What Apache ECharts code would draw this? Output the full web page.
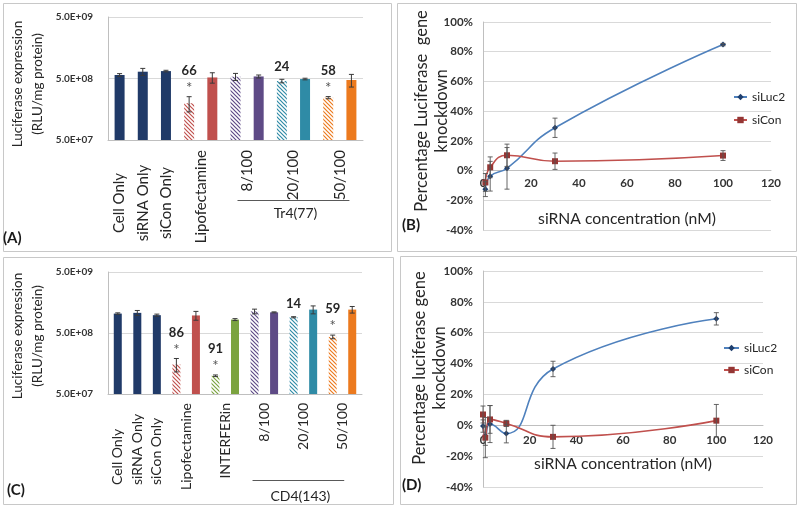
<!DOCTYPE html>
<html><head><meta charset="utf-8">
<script src="https://cdn.jsdelivr.net/npm/echarts@6/dist/echarts.min.js"></script>
<style>html,body{margin:0;padding:0;background:#fff;}#c{width:800px;height:510px;}</style>
</head><body><div id="c"></div>
<script>
// ================= DATA =================
// Panel A – Tr4(77)
const barCategoriesA = ['Cell Only','siRNA Only','siCon Only','Lipofectamine siLuc2','Lipofectamine siCon',
  'Tr4(77) 8/100 siLuc2','Tr4(77) 8/100 siCon','Tr4(77) 20/100 siLuc2','Tr4(77) 20/100 siCon','Tr4(77) 50/100 siLuc2','Tr4(77) 50/100 siCon'];
const expressionA = [5.7e8, 6.45e8, 6.6e8, 1.98e8, 5.2e8, 5.35e8, 5.4e8, 4.55e8, 4.9e8, 2.44e8, 4.73e8];
const errorA      = [0.3e8, 0.85e8, 0.2e8, 0.55e8, 1.0e8, 0.7e8, 0.3e8, 0.3e8, 0.15e8, 0.1e8, 1.1e8];
const knockdownA  = [null, null, null, 66, null, null, null, 24, null, 58, null];
const significantA= [false,false,false,true,false,false,false,false,false,true,false];
const tickLabelsA = [['Cell Only',[0]],['siRNA Only',[1]],['siCon Only',[2]],['Lipofectamine',[3,4]],['8/100',[5,6]],['20/100',[7,8]],['50/100',[9,10]]];
const groupA = ['Tr4(77)', [5,10]];
const barStyleA = ['navy','navy','navy','redH','red','purpleH','purple','tealH','teal','orangeH','orange'];

// Panel C – CD4(143)
const barCategoriesC = ['Cell Only','siRNA Only','siCon Only','Lipofectamine siLuc2','Lipofectamine siCon',
  'INTERFERin siLuc2','INTERFERin siCon','CD4(143) 8/100 siLuc2','CD4(143) 8/100 siCon','CD4(143) 20/100 siLuc2','CD4(143) 20/100 siCon','CD4(143) 50/100 siLuc2','CD4(143) 50/100 siCon'];
const expressionC = [1.04e9, 1.07e9, 0.98e9, 1.53e8, 9.7e8, 9.95e7, 8.3e8, 1.13e9, 1.09e9, 9.06e8, 1.21e9, 4.32e8, 1.21e9];
const errorC      = [0.3e8, 1.0e8, 0.4e8, 0.38e8, 1.6e8, 0.3e7, 0.3e8, 1.0e8, 0.2e8, 0.2e8, 1.8e8, 0.3e8, 1.5e8];
const knockdownC  = [null, null, null, 86, null, 91, null, null, null, 14, null, 59, null];
const significantC= [false,false,false,true,false,true,false,false,false,false,false,true,false];
const tickLabelsC = [['Cell Only',[0]],['siRNA Only',[1]],['siCon Only',[2]],['Lipofectamine',[3,4]],['INTERFERin',[5,6]],['8/100',[7,8]],['20/100',[9,10]],['50/100',[11,12]]];
const groupC = ['CD4(143)', [7,12]];
const barStyleC = ['navy','navy','navy','redH','red','greenH','green','purpleH','purple','tealH','teal','orangeH','orange'];

// Panel B – knockdown vs concentration
const concB = [1, 3, 10, 30, 100];
const siLuc2B = [-12.5, -3.8, 1.5, 28.8, 84.8];
const siLuc2ErrB = [5, 10, 14, 6.5, 0.8];
const siConB = [-8, 2.2, 10.3, 6.3, 10.1];
const siConErrB = [6, 7, 7.5, 5.5, 3.3];

// Panel D
const concD = [0, 1, 3, 10, 30, 100];
const siLuc2D = [-0.5, -7, 0.8, -5.4, 36.5, 69];
const siLuc2ErrD = [4, 6, 12, 6, 5, 4];
const siConD = [7, -8, 3.8, 1.2, -7.5, 3];
const siConErrD = [5.5, 13, 9, 2, 7.5, 10.5];

const pctTicks = {min: -40, max: 100, step: 20};
const concTicks = {min: 0, max: 120, step: 20};
const logBase = 5e7; // lowest tick 5.0E+07, decades above

// ================= STYLE =================
const FONT = 'Lato, "Open Sans", sans-serif';
const PAL = {navy:'#203A68', red:'#C0504D', purple:'#5E4A86', teal:'#2F8BA6', orange:'#EC7A1E', green:'#7BA33F'};
function hatch(color){
  const s = 4, c = document.createElement('canvas'); c.width = s; c.height = s;
  const g = c.getContext('2d');
  g.fillStyle = '#fff'; g.fillRect(0,0,s,s);
  g.strokeStyle = color; g.lineWidth = 1.2;
  g.beginPath();
  g.moveTo(-1,-1); g.lineTo(s+1,s+1);
  g.moveTo(-1,s-1); g.lineTo(1,s+1);
  g.moveTo(s-1,-1); g.lineTo(s+1,1);
  g.stroke();
  return {image: c, repeat: 'repeat'};
}
function barColor(key){
  const h = key.endsWith('H');
  const col = PAL[h ? key.slice(0,-1) : key];
  return h ? hatch(col) : col;
}
const toLog = v => Math.log10(v / logBase);
function sci(v){
  const e = Math.floor(Math.log10(v) + 1e-9);
  const m = v / Math.pow(10, e);
  return m.toFixed(1) + 'E+' + String(e).padStart(2,'0');
}
function slotLabels(defs, nBars, single){
  const arr = new Array(2*nBars+1).fill('');
  defs.forEach(([t, bars]) => {
    if ((bars.length === 1) !== single) return;
    const slot = bars.length === 1 ? 2*bars[0]+1 : 2*bars[0]+2;
    arr[slot] = t;
  });
  return arr;
}
const GRID_LINE = '#D9D9D9', AXIS_LINE = '#BFBFBF', TXT = '#262626';

function barAxis(grid, cats){
  return {type:'category', gridIndex:grid, data:cats, position:'bottom', boundaryGap:true,
    axisLine:{show:true, lineStyle:{color:AXIS_LINE}}, axisTick:{show:false}, axisLabel:{show:false}, splitLine:{show:false}};
}
function labelAxis(grid, labels, opts){
  return {type:'category', gridIndex:grid, position:'bottom', offset:0, boundaryGap:false,
    data: labels.map((_, k) => 's' + k),
    axisLine:{show:false}, axisTick:{show:false}, splitLine:{show:false},
    axisLabel:Object.assign({show:true, interval:0, rotate:90, verticalAlign:'middle',
      fontFamily:FONT, fontSize:14, color:TXT, formatter:(v, i) => labels[i]}, opts)};
}
function logYAxis(grid, nameShift){
  return {type:'value', gridIndex:grid, min:0, max:2, interval:1,
    axisLine:{show:true, lineStyle:{color:AXIS_LINE}}, axisTick:{show:false},
    splitLine:{show:true, lineStyle:{color:GRID_LINE}},
    axisLabel:{margin:15, fontFamily:FONT, fontSize:10, fontWeight:'bold', color:'#333',
      formatter: n => sci(logBase * Math.pow(10, n))},
    name:'Luciferase expression\n(RLU/mg protein)', nameLocation:'middle', nameGap:60, nameMoveOverlap:false,
    nameTextStyle:{fontFamily:FONT, fontSize:13.5, color:TXT, lineHeight:20, padding:nameShift}};
}
function concAxis(grid, nameGap, margin){
  return {type:'value', gridIndex:grid, min:concTicks.min, max:concTicks.max, interval:concTicks.step,
    axisLine:{show:true, onZero:false, lineStyle:{color:AXIS_LINE}}, axisTick:{show:false}, splitLine:{show:false},
    axisLabel:{margin:margin, fontFamily:FONT, fontSize:11.5, fontWeight:'bold', color:'#333'},
    name:'siRNA concentration (nM)', nameLocation:'middle', nameGap:nameGap, nameMoveOverlap:false,
    nameTextStyle:{fontFamily:FONT, fontSize:15.7, color:TXT}};
}
function pctAxis(grid, name, nameGap, shift){
  return {type:'value', gridIndex:grid, min:pctTicks.min, max:pctTicks.max, interval:pctTicks.step,
    axisLine:{show:true, onZero:false, lineStyle:{color:AXIS_LINE}}, axisTick:{show:false},
    splitLine:{show:true, lineStyle:{color:GRID_LINE}},
    axisLabel:{margin:10, fontFamily:FONT, fontSize:11.5, fontWeight:'bold', color:'#333', formatter:'{value}%'},
    name:name, nameLocation:'middle', nameGap:nameGap, nameMoveOverlap:false,
    nameTextStyle:{fontFamily:FONT, fontSize:16.5, color:TXT, lineHeight:20, padding:shift}};
}
function barSeries(xi, yi, values, styles, width){
  return {type:'bar', xAxisIndex:xi, yAxisIndex:yi, barWidth:width, animation:false,
    data: values.map((v, i) => ({value: toLog(v), itemStyle:{color: barColor(styles[i])}}))};
}
function barErrSeries(xi, yi, values, errs, knock, sig){
  return {type:'custom', xAxisIndex:xi, yAxisIndex:yi, z:5, animation:false, silent:true,
    data: values.map((v, i) => [i, toLog(v - errs[i]), toLog(v + errs[i])]),
    encode:{x:0, y:[1,2]},
    renderItem(params, api){
      const i = api.value(0);
      const hi = api.coord([i, api.value(2)]), lo = api.coord([i, api.value(1)]);
      const st = {stroke:'#3A3A3A', lineWidth:1}, c = 2.5;
      const ch = [
        {type:'line', shape:{x1:hi[0], y1:hi[1], x2:lo[0], y2:lo[1]}, style:st},
        {type:'line', shape:{x1:hi[0]-c, y1:hi[1], x2:hi[0]+c, y2:hi[1]}, style:st},
        {type:'line', shape:{x1:lo[0]-c, y1:lo[1], x2:lo[0]+c, y2:lo[1]}, style:st}];
      let y = hi[1] - 6;
      if (sig[i]) {
        ch.push({type:'text', style:{text:'*', x:hi[0], y:hi[1]-1, align:'center', verticalAlign:'bottom',
          font:'15px ' + FONT, fill:'#555'}});
        y = hi[1] - 19.5;
      }
      if (knock[i] != null) ch.push({type:'text', style:{text:String(knock[i]), x:hi[0], y:y, align:'center',
          verticalAlign:'bottom', font:'bold 13px ' + FONT, fill:TXT}});
      return {type:'group', children:ch};
    }};
}
function lineSeries(xi, yi, name, xs, ys, lineCol, symCol, symbol, size){
  return {type:'line', name:name, xAxisIndex:xi, yAxisIndex:yi, smooth:0.5, animation:false,
    data: xs.map((x, i) => [x, ys[i]]), symbol:symbol, symbolSize:size, showSymbol:true,
    lineStyle:{color:lineCol, width:1.6}, itemStyle:{color:symCol, borderWidth:0}, z:3};
}
function lineErrSeries(xi, yi, xs, ys, es){
  return {type:'custom', xAxisIndex:xi, yAxisIndex:yi, z:4, animation:false, silent:true,
    data: xs.map((x, i) => [x, ys[i] - es[i], ys[i] + es[i]]), encode:{x:0, y:[1,2]},
    renderItem(params, api){
      const x = api.value(0);
      const hi = api.coord([x, api.value(2)]), lo = api.coord([x, api.value(1)]);
      const st = {stroke:'#555', lineWidth:0.9}, c = 2.5;
      return {type:'group', children:[
        {type:'line', shape:{x1:hi[0], y1:hi[1], x2:lo[0], y2:lo[1]}, style:st},
        {type:'line', shape:{x1:hi[0]-c, y1:hi[1], x2:hi[0]+c, y2:hi[1]}, style:st},
        {type:'line', shape:{x1:lo[0]-c, y1:lo[1], x2:lo[0]+c, y2:lo[1]}, style:st}]};
    }};
}
const legendText = {fontFamily:FONT, fontSize:12, color:TXT};
const letter = (t, l, tp) => ({text:t, left:l, top:tp, padding:0,
  textStyle:{fontFamily:FONT, fontSize:15, fontWeight:'bold', color:'#1a1a1a'}});

const chart = echarts.init(document.getElementById('c'), null, {renderer:'canvas'});
const option = {
  animation:false,
  backgroundColor:'#fff',
  title:[letter('(A)',3,231), letter('(B)',402,218), letter('(C)',7,483), letter('(D)',402,478)],
  grid:[
    {left:108, top:17, width:255, height:123, outerBoundsMode:'none', containLabel:false},
    {left:483, top:22, width:288, height:208, outerBoundsMode:'none', containLabel:false},
    {left:108, top:272, width:254, height:122, outerBoundsMode:'none', containLabel:false},
    {left:483, top:271, width:280, height:216, outerBoundsMode:'none', containLabel:false}
  ],
  xAxis:[
    barAxis(0, barCategoriesA),
    labelAxis(0, slotLabels(tickLabelsA, barCategoriesA.length, false), {align:'right', margin:10, fontSize:15}),
    labelAxis(0, slotLabels(tickLabelsA, barCategoriesA.length, true), {align:'center', margin:63, fontSize:15}),
    concAxis(1, 40, 7),
    barAxis(2, barCategoriesC),
    labelAxis(2, slotLabels(tickLabelsC, barCategoriesC.length, false), {align:'right', margin:9}),
    labelAxis(2, slotLabels(tickLabelsC, barCategoriesC.length, true), {align:'left', margin:91}),
    concAxis(3, 31, 9)
  ],
  yAxis:[
    logYAxis(0, [0,11,0,0]),
    pctAxis(1, 'Percentage Luciferase  gene\nknockdown', 31, [0,0,0,30]),
    logYAxis(2, [0,6,0,0]),
    pctAxis(3, 'Percentage luciferase gene\nknockdown', 33, [0,0,0,22])
  ],
  legend:[
    {data:['siLuc2','siCon'], orient:'vertical', left:733, top:91, itemGap:11, itemWidth:13, itemHeight:8, padding:0, textStyle:legendText},
    {data:['siLuc2','siCon'], orient:'vertical', left:723, top:342, itemGap:10, itemWidth:15, itemHeight:8, padding:0, textStyle:legendText}
  ],
  series:[
    barSeries(0, 0, expressionA, barStyleA, 10),
    barErrSeries(0, 0, expressionA, errorA, knockdownA, significantA),
    barSeries(4, 2, expressionC, barStyleC, 8),
    barErrSeries(4, 2, expressionC, errorC, knockdownC, significantC),
    lineSeries(3, 1, 'siLuc2', concB, siLuc2B, '#4F81BD', '#1F3F6E', 'diamond', 6),
    lineSeries(3, 1, 'siCon', concB, siConB, '#C0504D', '#943634', 'rect', 6),
    lineErrSeries(3, 1, concB, siLuc2B, siLuc2ErrB),
    lineErrSeries(3, 1, concB, siConB, siConErrB),
    lineSeries(7, 3, 'siLuc2', concD, siLuc2D, '#4F81BD', '#1F3F6E', 'diamond', 6),
    lineSeries(7, 3, 'siCon', concD, siConD, '#C0504D', '#943634', 'rect', 6),
    lineErrSeries(7, 3, concD, siLuc2D, siLuc2ErrD),
    lineErrSeries(7, 3, concD, siConD, siConErrD)
  ]
};
chart.setOption(option);

// move the concentration axes onto the 0% line of their value axes
const zeroShift = yi => chart.convertToPixel({yAxisIndex:yi}, 0) - chart.convertToPixel({yAxisIndex:yi}, pctTicks.min);
chart.setOption({xAxis:[{},{},{},{offset: zeroShift(1)},{},{},{},{offset: zeroShift(3)}]});

// group brackets under the category labels, positioned from the axes
function groupGraphic(xi, yi, group, startOff, endOff, lineDy, textDy){
  const [text, [a, b]] = group;
  const x1 = chart.convertToPixel({xAxisIndex:xi}, a) + startOff;
  const x2 = chart.convertToPixel({xAxisIndex:xi}, b) + endOff;
  const y0 = chart.convertToPixel({yAxisIndex:yi}, 0);
  return [
    {type:'line', shape:{x1:x1, y1:y0+lineDy+0.5, x2:x2, y2:y0+lineDy+0.5}, style:{stroke:'#595959', lineWidth:1}},
    {type:'text', style:{text:text, x:(x1+x2)/2 + 2, y:y0+textDy, align:'center', verticalAlign:'middle',
      font:'14px ' + FONT, fill:TXT}}
  ];
}
const panel = (x, y, w, h) => ({type:'rect', shape:{x:x+0.5, y:y+0.5, width:w, height:h}, style:{fill:null, stroke:'#C8C8C8', lineWidth:1}, silent:true});
chart.setOption({graphic:[
  panel(3,3,388,248), panel(397,3,399,248), panel(3,257,390,247), panel(400,256,396,248),
  ...groupGraphic(0, 0, groupA, 2, -2, 60, 73),
  ...groupGraphic(4, 2, groupC, -2, -8, 86, 102)
]});
</script></body></html>
